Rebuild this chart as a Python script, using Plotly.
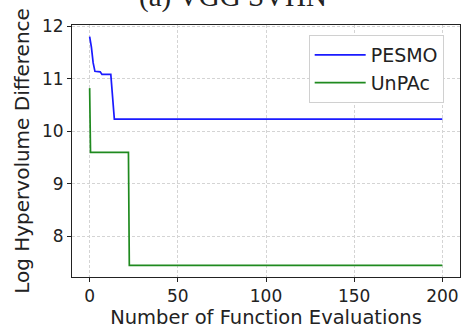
import plotly.graph_objects as go

# Convergence curves: log hypervolume difference vs. number of evaluations
pesmo_x = [0, 1, 2, 3, 6, 7, 12, 12.5, 13, 14, 200]
pesmo_y = [11.8, 11.6, 11.3, 11.14, 11.13, 11.08, 11.08, 10.85, 10.8, 10.23, 10.23]

unpac_x = [0, 0.5, 22, 22.5, 200]
unpac_y = [10.82, 9.6, 9.6, 7.45, 7.45]

x_ticks = [0, 50, 100, 150, 200]
y_ticks = [8, 9, 10, 11, 12]

fig = go.Figure()
fig.add_trace(go.Scatter(x=pesmo_x, y=pesmo_y, mode="lines", name="PESMO",
                         legendgroup="a", line=dict(color="#1a1aff", width=1.7)))
fig.add_trace(go.Scatter(x=unpac_x, y=unpac_y, mode="lines", name="UnPAc",
                         legendgroup="b", line=dict(color="#1f8a1f", width=1.7)))

axis_common = dict(
    showline=True, linecolor="#222222", linewidth=1, mirror=True,
    showgrid=True, gridcolor="#d4d4d4", griddash="3px,2px", gridwidth=0.8,
    ticks="outside", ticklen=4, tickcolor="#222222",
    tickfont=dict(family="DejaVu Sans", size=17, color="#222222"),
    zeroline=False,
)

fig.update_xaxes(range=[-10, 210], tickvals=x_ticks,
                 title=dict(text="Number of Function Evaluations",
                            font=dict(family="DejaVu Sans", size=19.5, color="#222222"),
                            standoff=4),
                 **axis_common)
fig.update_yaxes(range=[7.23, 12.02], tickvals=y_ticks,
                 title=dict(text="Log Hypervolume Difference",
                            font=dict(family="DejaVu Sans", size=20, color="#222222"),
                            standoff=6),
                 **axis_common)

fig.add_annotation(text="(a) VGG SVHN", xref="paper", yref="paper",
                   x=0.415, y=1.112, xanchor="center", yanchor="middle",
                   showarrow=False,
                   font=dict(family="Liberation Serif", size=29, color="#222222"))

fig.update_layout(
    width=463, height=331,
    margin=dict(l=72, r=3, t=25, b=54, autoexpand=False),
    paper_bgcolor="white", plot_bgcolor="white",
    showlegend=True,
    legend=dict(x=0.61, y=0.96, xanchor="left", yanchor="top",
                bgcolor="white", bordercolor="#d0d0d0", borderwidth=1,
                tracegroupgap=0, itemwidth=51,
                font=dict(family="DejaVu Sans", size=19, color="#222222")),
)

fig.write_html("out.html")
